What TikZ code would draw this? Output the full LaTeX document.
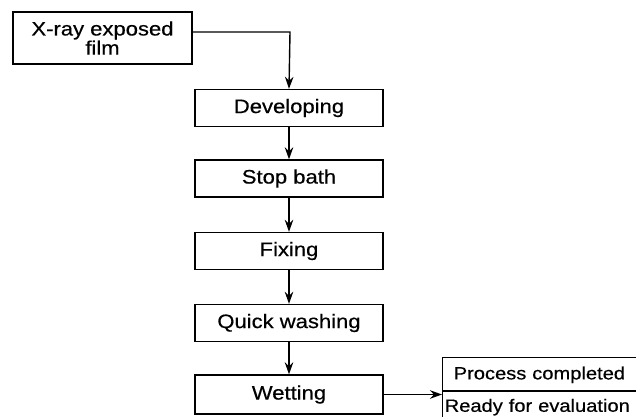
\documentclass[tikz,border=0pt]{standalone}
\usepackage{fontspec}
\setmainfont{Liberation Sans}[FakeStretch=1.13,FakeBold=0.5]
\usetikzlibrary{arrows.meta,shapes.multipart}
\begin{document}
\begin{tikzpicture}[x=1pt,y=-1pt,
  txt/.style={font=\fontsize{19.5}{18}\selectfont},
  stepbox/.style={draw,line width=1.4pt,minimum width=188pt,minimum height=37pt,inner sep=0pt,txt},
  conn/.style={line width=1.4pt,-{Stealth[length=12pt,width=8.5pt]}}]
\useasboundingbox (0,0) rectangle (636,416);
\clip (0,0) rectangle (636,416);
\fill[white] (0,0) rectangle (636,416);
\node[draw,line width=1.4pt,minimum width=179pt,minimum height=52pt,inner sep=0pt,align=center,txt] (xray) at (102.5,38) {X-ray exposed\\film};
\node[stepbox] (dev) at (289,108) {Developing};
\node[stepbox] (stop) at (289,178.5) {Stop bath};
\node[stepbox] (fix) at (289,251) {Fixing};
\node[stepbox] (wash) at (289,323) {Quick washing};
\node[stepbox,minimum height=39pt] (wet) at (289,394.5) {Wetting};
\node[draw,line width=1.4pt,rectangle split,rectangle split parts=2,anchor=north west,inner sep=0pt,text width=240pt,align=left,font=\fontsize{17.8}{18}\selectfont] (proc) at (442,357)
  {\rule[-11pt]{0pt}{32pt}\hspace{11pt}Process completed\nodepart{two}\rule[-24pt]{0pt}{44pt}\hspace{2pt}Ready for evaluation};
\coordinate (bend) at (290,32);
\draw[conn] (xray.east |- bend) -- (bend) -- (dev.north);
\draw[conn] (dev) -- (stop);
\draw[conn] (stop) -- (fix);
\draw[conn] (fix) -- (wash);
\draw[conn] (wash) -- (wet);
\draw[conn] (wet.east) -- (wet.east -| proc.west);
\end{tikzpicture}
\end{document}
